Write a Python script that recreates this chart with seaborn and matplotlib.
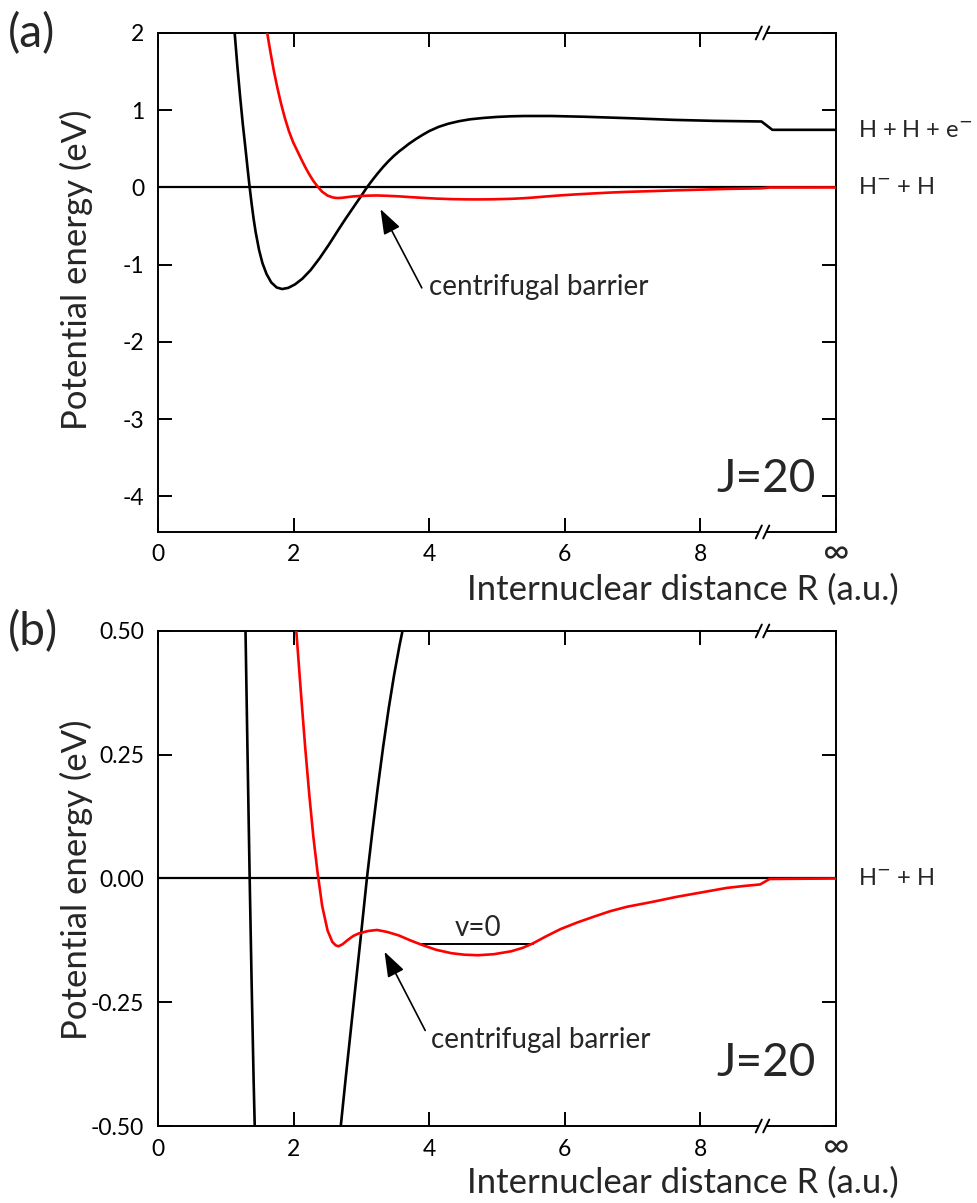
import numpy as np
import pandas as pd
import matplotlib
matplotlib.use("Agg")
import matplotlib.pyplot as plt
import matplotlib.transforms as mtransforms
import seaborn as sns

# ---------------- data ----------------
black_R = [1.13, 1.17, 1.21, 1.25, 1.29, 1.32, 1.35, 1.38, 1.41, 1.44, 1.49, 1.54,
           1.60, 1.67, 1.75, 1.83, 1.92, 2.02, 2.13, 2.25, 2.38, 2.52, 2.68, 2.77,
           2.91, 3.00, 3.08, 3.16, 3.24, 3.32, 3.40, 3.48, 3.56, 3.62, 3.70, 3.80,
           3.90, 4.00, 4.14, 4.28, 4.44, 4.60, 4.80, 5.00, 5.20, 5.40, 5.80, 6.30,
           7.00, 7.60, 8.20, 8.90, 9.06, 10.0]
black_E = [2.00, 1.57, 1.18, 0.82, 0.50, 0.25, 0.01, -0.21, -0.41, -0.58, -0.81, -0.98,
           -1.12, -1.23, -1.295, -1.315, -1.30, -1.255, -1.18, -1.07, -0.92, -0.74, -0.52, -0.40,
           -0.22, -0.105, 0.00, 0.094, 0.183, 0.266, 0.342, 0.41, 0.47, 0.51, 0.565, 0.625,
           0.68, 0.73, 0.785, 0.825, 0.858, 0.882, 0.90, 0.913, 0.921, 0.925, 0.925, 0.915,
           0.895, 0.875, 0.862, 0.854, 0.746, 0.746]

red_R = [1.61, 1.66, 1.71, 1.76, 1.81, 1.87, 1.93, 1.99, 2.05, 2.11, 2.17, 2.23,
         2.29, 2.35, 2.42, 2.50, 2.57, 2.62, 2.66, 2.72, 2.80, 2.88, 2.96, 3.10,
         3.23, 3.38, 3.55, 3.72, 3.89, 4.10, 4.33, 4.52, 4.72, 4.95, 5.21, 5.38,
         5.53, 5.72, 5.94, 6.18, 6.43, 6.67, 6.92, 7.30, 7.65, 8.02, 8.39, 8.65,
         8.88, 9.02, 10.0]
red_E = [2.00, 1.74, 1.50, 1.29, 1.10, 0.90, 0.73, 0.59, 0.48, 0.37, 0.265, 0.17,
         0.085, 0.015, -0.055, -0.105, -0.128, -0.135, -0.137, -0.133, -0.124, -0.116, -0.111, -0.106,
         -0.104, -0.108, -0.115, -0.125, -0.134, -0.144, -0.151, -0.154, -0.155, -0.153, -0.147, -0.140,
         -0.131, -0.117, -0.102, -0.089, -0.077, -0.066, -0.057, -0.047, -0.037, -0.028, -0.019, -0.015,
         -0.012, -0.001, 0.0]

v0_R = [3.89, 5.53]
v0_E = [-0.133, -0.133]

x_ticks = [0, 2, 4, 6, 8, 10]
x_ticklabels = ["0", "2", "4", "6", "8", ""]
inf_label = "∞"
ya_ticks = [2, 1, 0, -1, -2, -3, -4]
ya_ticklabels = ["2", "1", "0", "-1", "-2", "-3", "-4"]
yb_ticks = [0.5, 0.25, 0.0, -0.25, -0.5]
yb_ticklabels = ["0.50", "0.25", "0.00", "-0.25", "-0.50"]

# ---------------- style ----------------
sns.set_theme(style="ticks")
plt.rcParams["font.family"] = ["Lato", "DejaVu Sans"]
plt.rcParams["axes.linewidth"] = 1.4
plt.rcParams["axes.edgecolor"] = "black"

black_df = pd.DataFrame({"R": black_R, "E": black_E})
red_df = pd.DataFrame({"R": red_R, "E": red_E})
v0_df = pd.DataFrame({"R": v0_R, "E": v0_E})

fig = plt.figure(figsize=(9.78, 12.03), dpi=100)
axA = fig.add_axes([0.1616, 0.5578, 0.6933, 0.4148])
axB = fig.add_axes([0.1616, 0.0640, 0.6933, 0.4115])


def style_axis(ax, yticks, ylabels, ylim):
    ax.set_xlim(0, 10)
    ax.set_ylim(*ylim)
    ax.set_xticks(x_ticks)
    ax.set_xticklabels(x_ticklabels)
    ax.set_yticks(yticks)
    ax.set_yticklabels(ylabels)
    ax.tick_params(direction="in", length=10, width=1.4, top=True, right=True,
                   labelsize=16.5, colors="black")
    ax.tick_params(axis="x", pad=9)
    ax.tick_params(axis="y", pad=10)
    ax.set_xlabel("")
    ax.set_ylabel("")
    for s in ax.spines.values():
        s.set_color("black")
        s.set_linewidth(1.4)
    # infinity label under the right spine
    tr = mtransforms.blended_transform_factory(ax.transData, ax.transAxes)
    ax.text(10, -0.042, inf_label, transform=tr, fontsize=26, ha="center",
            va="center", clip_on=False)
    # axis break marks on top and bottom spines
    xb1, xb2 = 0.886, 0.897
    trans = ax.transAxes
    dx, dy = 0.0045, 0.013
    for yy in (0.0, 1.0):
        ax.plot([xb1, xb2], [yy, yy], color="white", lw=3, transform=trans,
                clip_on=False, zorder=5, solid_capstyle="butt")
        for xb in (xb1, xb2):
            ax.plot([xb - dx, xb + dx], [yy - dy, yy + dy], color="black", lw=1.4,
                    transform=trans, clip_on=False, zorder=6)


for ax in (axA, axB):
    ax.axhline(0, color="black", lw=1.6, zorder=1)
    sns.lineplot(data=black_df, x="R", y="E", ax=ax, color="black", lw=1.9,
                 sort=False, estimator=None, zorder=3)
    sns.lineplot(data=red_df, x="R", y="E", ax=ax, color="#ff0000", lw=1.9,
                 sort=False, estimator=None, zorder=4)

sns.lineplot(data=v0_df, x="R", y="E", ax=axB, color="black", lw=1.4,
             sort=False, estimator=None, zorder=2)

style_axis(axA, ya_ticks, ya_ticklabels, (-4.46, 2.0))
style_axis(axB, yb_ticks, yb_ticklabels, (-0.5, 0.5))

# ---------------- annotations ----------------
arrow = dict(arrowstyle="-|>,head_length=0.7,head_width=0.25", color="black", lw=1.2,
             mutation_scale=22, shrinkA=0, shrinkB=0)
axA.annotate("", xy=(3.28, -0.28), xytext=(3.89, -1.30), arrowprops=arrow)
axA.text(3.99, -1.29, "centrifugal barrier", fontsize=20, va="center", ha="left")
axA.text(8.97, -3.78, "J=20", fontsize=33, va="center", ha="center")

axB.annotate("", xy=(3.34, -0.148), xytext=(3.94, -0.307), arrowprops=arrow)
axB.text(4.02, -0.327, "centrifugal barrier", fontsize=20, va="center", ha="left")
axB.text(8.97, -0.372, "J=20", fontsize=33, va="center", ha="center")
axB.text(4.72, -0.126, "v=0", fontsize=20, va="bottom", ha="center")

# right-side channel labels
axA.text(10.32, 0.74, "H + H + e$^{-}$", fontsize=17, va="center", ha="left")
axA.text(10.32, 0.0, "H$^{-}$ + H", fontsize=17, va="center", ha="left")
axB.text(10.32, 0.0, "H$^{-}$ + H", fontsize=17, va="center", ha="left")

# panel letters and axis titles
fig.text(8 / 978, 1 - 34 / 1203, "(a)", fontsize=33, va="center", ha="left")
fig.text(8 / 978, 1 - 632 / 1203, "(b)", fontsize=33, va="center", ha="left")
fig.text(683 / 978, 1 - 590 / 1203, "Internuclear distance R (a.u.)", fontsize=25,
         va="center", ha="center")
fig.text(683 / 978, 1 - 1183 / 1203, "Internuclear distance R (a.u.)", fontsize=25,
         va="center", ha="center")
fig.text(76 / 978, 1 - 270 / 1203, "Potential energy (eV)", fontsize=25,
         va="center", ha="center", rotation=90)
fig.text(76 / 978, 1 - 880 / 1203, "Potential energy (eV)", fontsize=25,
         va="center", ha="center", rotation=90)

fig.savefig("out.png", dpi=100, facecolor="white")
